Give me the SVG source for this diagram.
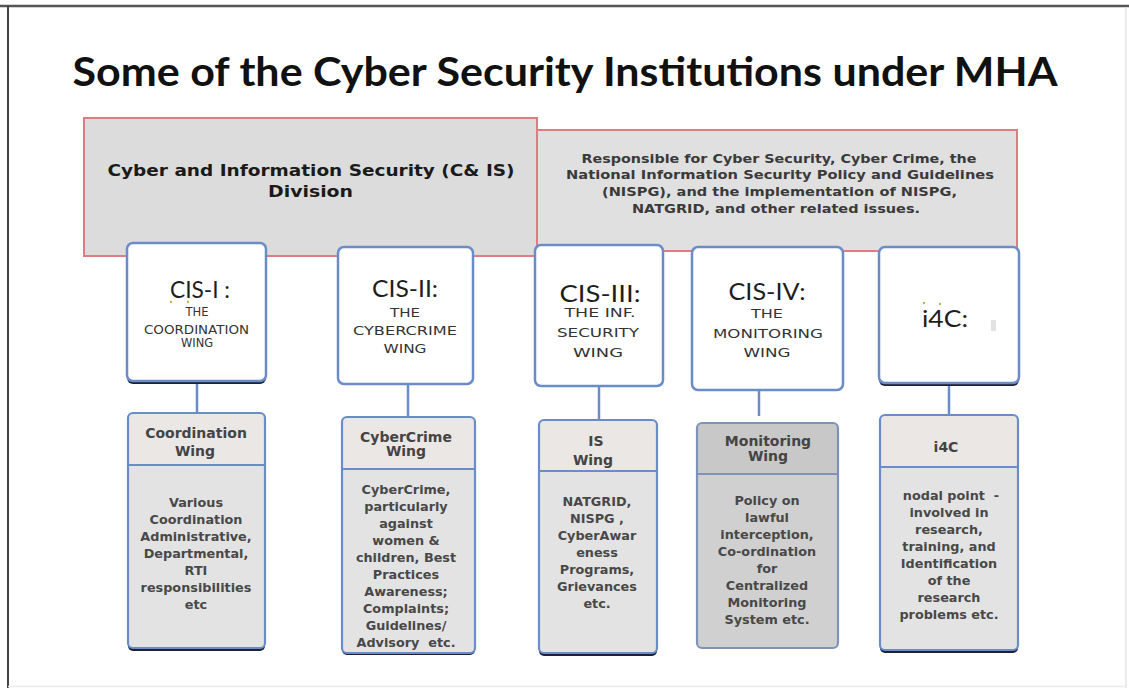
<svg xmlns="http://www.w3.org/2000/svg" width="1129" height="688" viewBox="0 0 1129 688">
<style>
.title{font-family:Lato,"Open Sans",sans-serif;font-weight:700;font-size:40px;fill:#111}
.big{font-family:"DejaVu Sans",Verdana,sans-serif;font-weight:700;font-size:16px;fill:#1a1a1a}
.desc{font-family:"DejaVu Sans",Verdana,sans-serif;font-weight:700;font-size:12.8px;fill:#3a3a3a}
.cis{font-family:Lato,"Open Sans",sans-serif;font-size:24px;fill:#1e1e1e}
.sub{font-family:"DejaVu Sans",Verdana,sans-serif;font-size:13px;fill:#333}
.hd{font-family:"DejaVu Sans",Verdana,sans-serif;font-weight:700;font-size:14px;fill:#444}
.bd{font-family:"DejaVu Sans",Verdana,sans-serif;font-weight:700;font-size:12.8px;fill:#484848}
.redbox{stroke:#e07b84;stroke-width:2}
.top{fill:#fff;stroke:#6a8cc8;stroke-width:2.5}
.shadow{fill:#1b2138}
.head{fill:#ebe7e5}
.body{fill:#e3e3e3}
.frame{fill:none;stroke:#6a8cc8;stroke-width:2.2}
.div{stroke:#6a8cc8;stroke-width:2}
.conn line{stroke:#6a8cc8;stroke-width:2.5}
text{text-anchor:middle}
</style>

<!-- page frame -->
<g id="frame">
<line x1="0" y1="6" x2="1129" y2="6" stroke="#555" stroke-width="2.5"/>
<line x1="8" y1="6" x2="8" y2="688" stroke="#444" stroke-width="2"/>
<line x1="1126" y1="7" x2="1126" y2="688" stroke="#e4e4e4" stroke-width="1.5"/>
<line x1="8" y1="686.5" x2="1126" y2="686.5" stroke="#ececec" stroke-width="1.5"/>
</g>

<text id="title" class="title" x="565" y="86" textLength="985" lengthAdjust="spacingAndGlyphs">Some of the Cyber Security Institutions under MHA</text>

<!-- division boxes -->
<g id="desc-box">
<rect class="redbox" x="537" y="130" width="480" height="121" fill="#e0e0e0"/>
<text class="desc" x="779" y="162.5" textLength="395" lengthAdjust="spacingAndGlyphs">Responsible for Cyber Security, Cyber Crime, the</text>
<text class="desc" x="780" y="179" textLength="428" lengthAdjust="spacingAndGlyphs">National Information Security Policy and Guidelines</text>
<text class="desc" x="779.5" y="196" textLength="355" lengthAdjust="spacingAndGlyphs">(NISPG), and the implementation of NISPG,</text>
<text class="desc" x="776" y="212.5" textLength="288" lengthAdjust="spacingAndGlyphs">NATGRID, and other related issues.</text>
</g>
<g id="division">
<rect class="redbox" x="84" y="118" width="453" height="138" fill="#dcdcdc"/>
<text class="big" x="311" y="176" textLength="407" lengthAdjust="spacingAndGlyphs">Cyber and Information Security (C&amp; IS)</text>
<text class="big" x="310.5" y="197" textLength="85" lengthAdjust="spacingAndGlyphs">Division</text>
</g>

<!-- connectors -->
<g id="connectors" class="conn">
<line x1="197" y1="383" x2="197" y2="413"/>
<line x1="408" y1="384" x2="408" y2="417"/>
<line x1="599" y1="386" x2="599" y2="420"/>
<line x1="759" y1="390" x2="759" y2="416"/>
<line x1="949" y1="385" x2="949" y2="415"/>
</g>

<!-- top row -->
<g id="cis1">
<rect class="shadow" x="127" y="246" width="139" height="138" rx="6"/>
<rect class="top" x="127" y="243" width="139" height="138" rx="6"/>
<text class="cis" x="200" y="298" font-size="23" textLength="60" lengthAdjust="spacingAndGlyphs">CIS-I :</text>
<circle cx="171" cy="302" r="1.2" fill="#b5b84a"/>
<circle cx="188" cy="302" r="1.2" fill="#b5b84a"/>
<text class="sub" x="197" y="316" font-size="11.5" textLength="23" lengthAdjust="spacingAndGlyphs">THE</text>
<text class="sub" x="196.5" y="334" font-size="11.5" textLength="105" lengthAdjust="spacingAndGlyphs">COORDINATION</text>
<text class="sub" x="197" y="347" font-size="11.5" textLength="32" lengthAdjust="spacingAndGlyphs">WING</text>
</g>
<g id="cis2">
<rect class="top" x="338" y="247" width="135" height="137" rx="6"/>
<text class="cis" x="405" y="297" font-size="24" textLength="66" lengthAdjust="spacingAndGlyphs">CIS-II:</text>
<text class="sub" x="405" y="317" font-size="13.5" textLength="30" lengthAdjust="spacingAndGlyphs">THE</text>
<text class="sub" x="405" y="335" font-size="13.5" textLength="104" lengthAdjust="spacingAndGlyphs">CYBERCRIME</text>
<text class="sub" x="405" y="353" font-size="13.5" textLength="43" lengthAdjust="spacingAndGlyphs">WING</text>
</g>
<g id="cis3">
<rect class="top" x="535" y="245" width="128" height="141" rx="6"/>
<text class="cis" x="600" y="302" font-size="26" textLength="81" lengthAdjust="spacingAndGlyphs">CIS-III:</text>
<text class="sub" x="600" y="317" font-size="15.5" textLength="71" lengthAdjust="spacingAndGlyphs">THE INF.</text>
<text class="sub" x="598" y="337" font-size="15.5" textLength="82" lengthAdjust="spacingAndGlyphs">SECURITY</text>
<text class="sub" x="598" y="357" font-size="15.5" textLength="50" lengthAdjust="spacingAndGlyphs">WING</text>
</g>
<g id="cis4">
<rect class="top" x="692" y="247" width="151" height="143" rx="6"/>
<text class="cis" x="767" y="300" font-size="25" textLength="77" lengthAdjust="spacingAndGlyphs">CIS-IV:</text>
<text class="sub" x="767" y="318" font-size="14.5" textLength="32" lengthAdjust="spacingAndGlyphs">THE</text>
<text class="sub" x="768" y="338" font-size="14.5" textLength="110" lengthAdjust="spacingAndGlyphs">MONITORING</text>
<text class="sub" x="767" y="357" font-size="14.5" textLength="47" lengthAdjust="spacingAndGlyphs">WING</text>
</g>
<g id="i4c-top">
<rect class="shadow" x="879" y="250" width="140" height="136" rx="6"/>
<rect class="top" x="879" y="247" width="140" height="136" rx="6"/>
<text class="cis" x="945" y="327" font-size="26" textLength="46" lengthAdjust="spacingAndGlyphs">i4C:</text>
<circle cx="924" cy="303" r="1.2" fill="#b5b84a"/>
<circle cx="940" cy="304" r="1.2" fill="#b5b84a"/>
<rect x="991" y="320" width="5" height="11" fill="#e2e2e2"/>
</g>

<!-- bottom row -->
<g id="coord-wing">
<rect class="shadow" x="128" y="416" width="137" height="235" rx="5"/>
<rect class="body" x="128" y="413" width="137" height="235" rx="5"/>
<rect class="head" x="129" y="414" width="135" height="51" rx="4"/>
<rect class="frame" x="128" y="413" width="137" height="235" rx="5"/>
<line class="div" x1="128" y1="465" x2="265" y2="465"/>
<text class="hd" x="196" y="438">Coordination</text>
<text class="hd" x="195" y="456">Wing</text>
<text class="bd" x="196" y="507">Various</text>
<text class="bd" x="196" y="524">Coordination</text>
<text class="bd" x="196" y="541">Administrative,</text>
<text class="bd" x="196" y="558">Departmental,</text>
<text class="bd" x="196" y="575">RTI</text>
<text class="bd" x="196" y="592" font-size="12.5">responsibilities</text>
<text class="bd" x="196" y="609">etc</text>
</g>
<g id="cybercrime-wing">
<rect class="shadow" x="342" y="419" width="133" height="236" rx="5"/>
<rect class="body" x="342" y="417" width="133" height="236" rx="5"/>
<rect class="head" x="343" y="418" width="131" height="51" rx="4"/>
<rect class="frame" x="342" y="417" width="133" height="236" rx="5"/>
<line class="div" x1="342" y1="469" x2="475" y2="469"/>
<text class="hd" x="406" y="442">CyberCrime</text>
<text class="hd" x="406" y="456">Wing</text>
<text class="bd" x="406" y="494">CyberCrime,</text>
<text class="bd" x="406" y="511">particularly</text>
<text class="bd" x="406" y="528">against</text>
<text class="bd" x="406" y="545">women &amp;</text>
<text class="bd" x="406" y="562">children, Best</text>
<text class="bd" x="406" y="579">Practices</text>
<text class="bd" x="406" y="596">Awareness;</text>
<text class="bd" x="406" y="613">Complaints;</text>
<text class="bd" x="406" y="630">Guidelines/</text>
<text class="bd" x="406" y="647" xml:space="preserve">Advisory  etc.</text>
</g>
<g id="is-wing">
<rect class="shadow" x="539" y="423" width="118" height="233" rx="5"/>
<rect class="body" x="539" y="420" width="118" height="233" rx="5"/>
<rect class="head" x="540" y="421" width="116" height="50" rx="4"/>
<rect class="frame" x="539" y="420" width="118" height="233" rx="5"/>
<line class="div" x1="539" y1="471" x2="657" y2="471"/>
<text class="hd" x="596" y="446" font-size="18">IS</text>
<text class="hd" x="593" y="465" font-size="18">Wing</text>
<text class="bd" x="597" y="506">NATGRID,</text>
<text class="bd" x="597" y="523" xml:space="preserve">NISPG ,</text>
<text class="bd" x="597" y="540">CyberAwar</text>
<text class="bd" x="597" y="557">eness</text>
<text class="bd" x="597" y="574">Programs,</text>
<text class="bd" x="597" y="591">Grievances</text>
<text class="bd" x="597" y="608">etc.</text>
</g>
<g id="monitoring-wing">
<rect x="697" y="423" width="141" height="225" rx="5" fill="#d0d0d0"/>
<rect x="698" y="424" width="139" height="50" rx="4" fill="#c8c8c8"/>
<rect x="697" y="423" width="141" height="225" rx="5" fill="none" stroke="#7f93b8" stroke-width="2.2"/>
<line x1="697" y1="474" x2="838" y2="474" stroke="#7f93b8" stroke-width="2"/>
<text class="hd" x="768" y="446" font-size="13.3">Monitoring</text>
<text class="hd" x="768" y="461" font-size="13.3">Wing</text>
<text class="bd" x="767" y="505">Policy on</text>
<text class="bd" x="767" y="522">lawful</text>
<text class="bd" x="767" y="539">interception,</text>
<text class="bd" x="767" y="556">Co-ordination</text>
<text class="bd" x="767" y="573">for</text>
<text class="bd" x="767" y="590">Centralized</text>
<text class="bd" x="767" y="607">Monitoring</text>
<text class="bd" x="767" y="624">System etc.</text>
</g>
<g id="i4c-wing">
<rect class="shadow" x="880" y="418" width="138" height="235" rx="5"/>
<rect class="body" x="880" y="415" width="138" height="235" rx="5"/>
<rect class="head" x="881" y="416" width="136" height="51" rx="4"/>
<rect class="frame" x="880" y="415" width="138" height="235" rx="5"/>
<line class="div" x1="880" y1="467" x2="1018" y2="467"/>
<text class="hd" x="946" y="452" font-size="15">i4C</text>
<text class="bd" x="951" y="500" xml:space="preserve">nodal point  -</text>
<text class="bd" x="949" y="517">involved in</text>
<text class="bd" x="949" y="534">research,</text>
<text class="bd" x="949" y="551">training, and</text>
<text class="bd" x="949" y="568">Identification</text>
<text class="bd" x="949" y="585">of the</text>
<text class="bd" x="949" y="602">research</text>
<text class="bd" x="949" y="619">problems etc.</text>
</g>
</svg>
